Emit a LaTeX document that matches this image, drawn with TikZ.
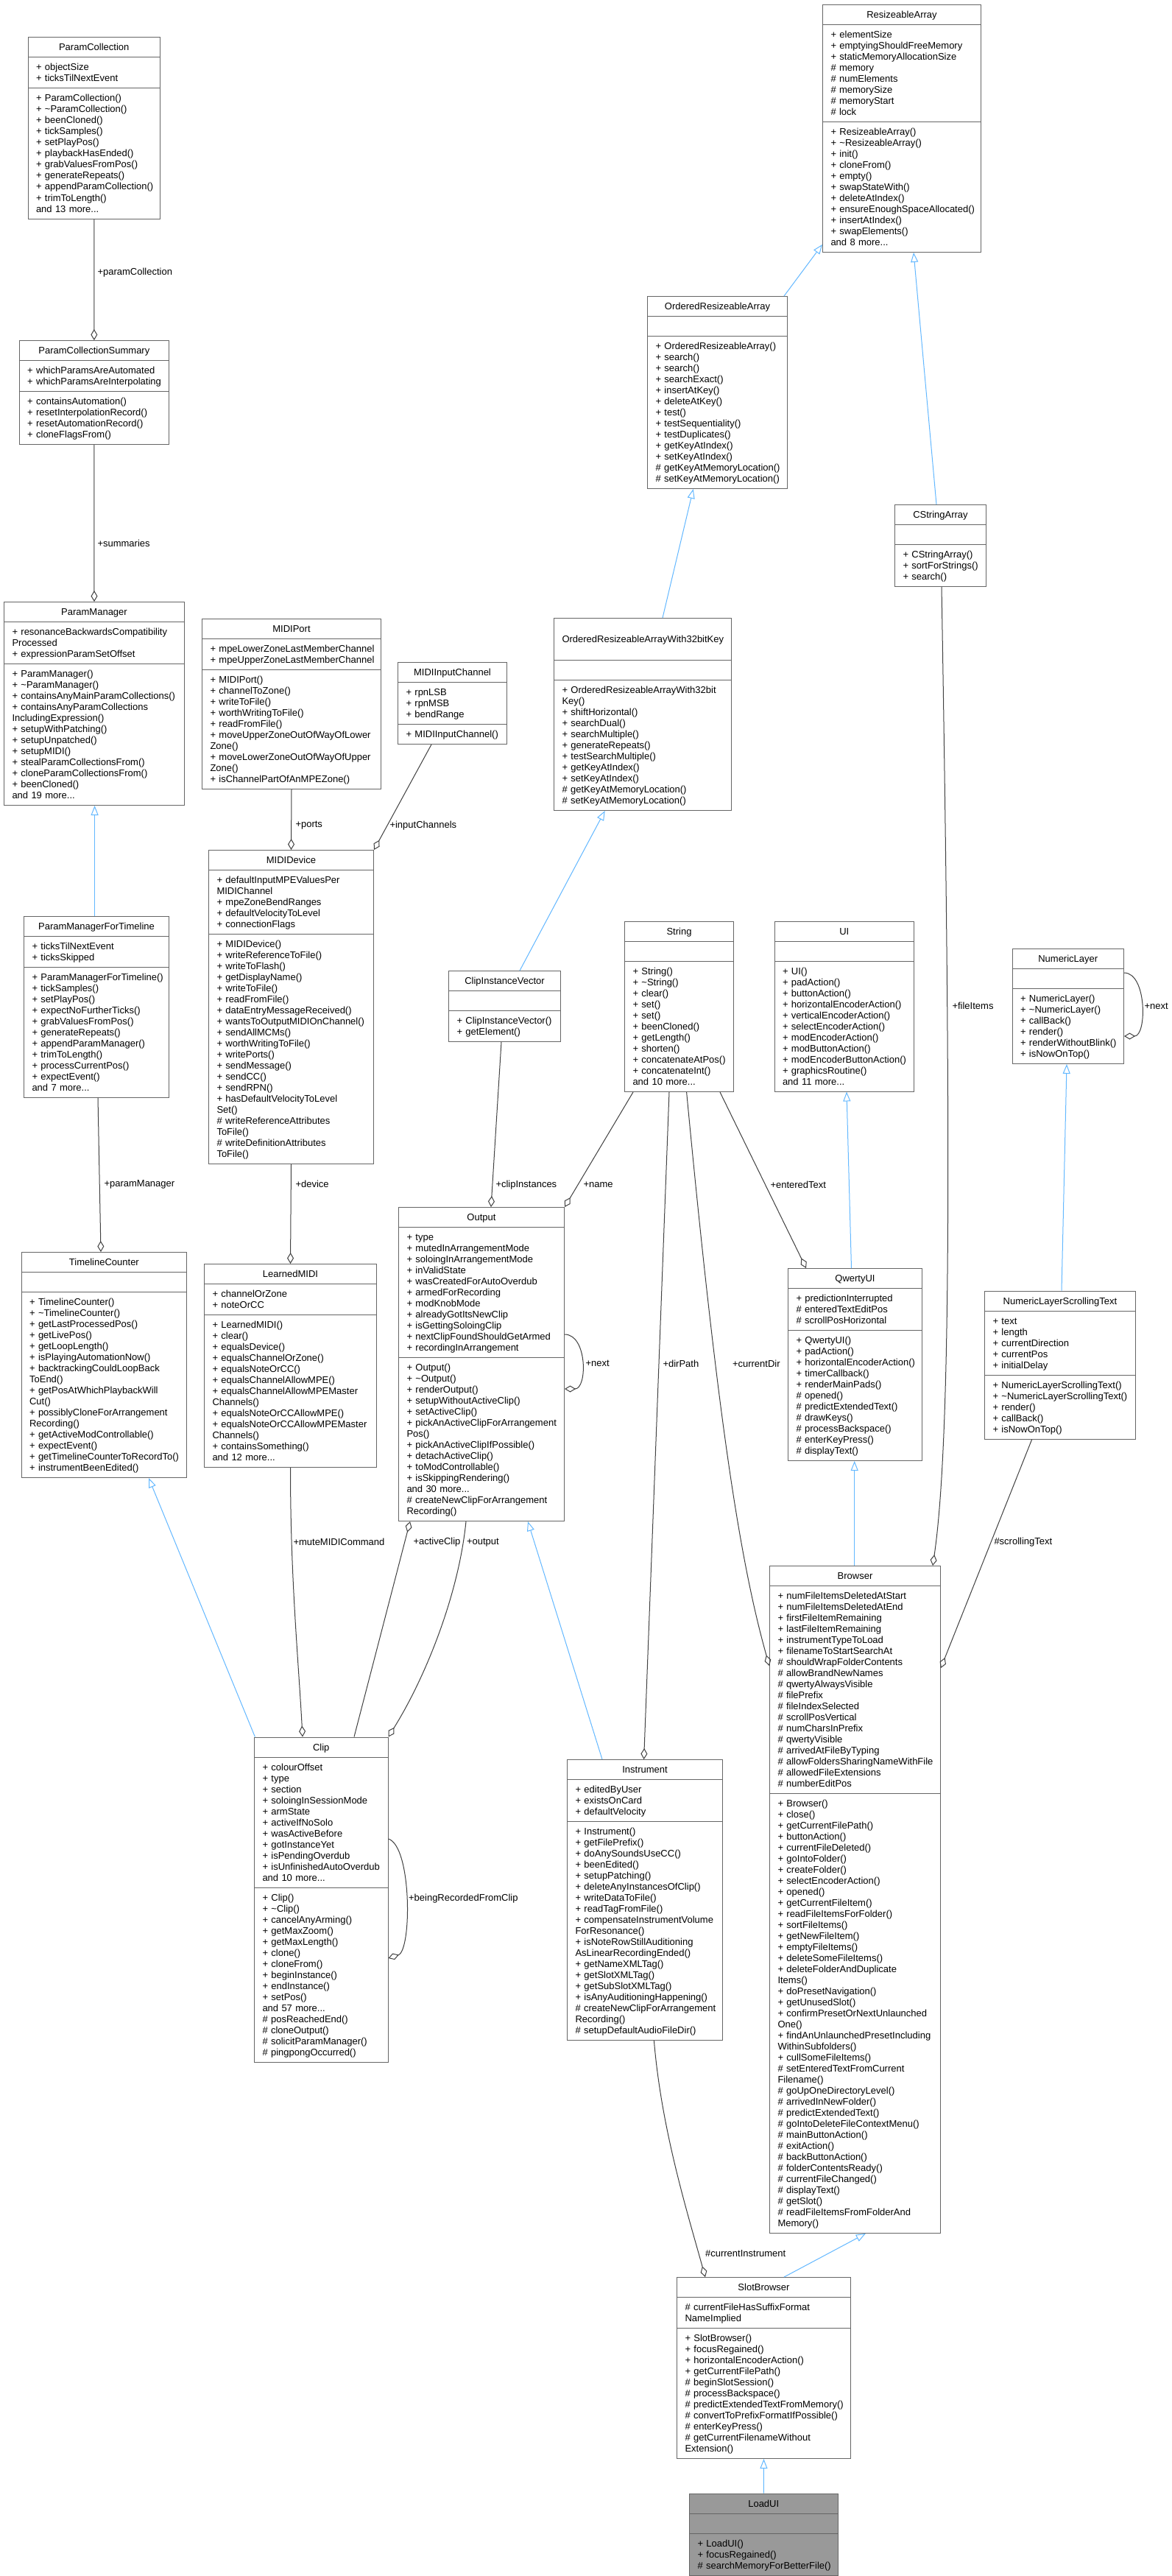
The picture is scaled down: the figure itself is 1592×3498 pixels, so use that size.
\documentclass[tikz,border=0pt]{standalone}
\usepackage{fontspec}
\setmainfont{Liberation Sans}
\usepackage{tikz}
\usetikzlibrary{calc}
\usetikzlibrary{arrows.meta}
\usetikzlibrary{shapes}
\definecolor{boxgray}{HTML}{666666}
\definecolor{edgegray}{HTML}{404040}
\definecolor{inhblue}{HTML}{63B8FF}
\definecolor{focusfill}{HTML}{999999}
\newcommand{\boxfont}{\fontsize{13pt}{15pt}\selectfont\parindent=0pt\hyphenpenalty=10000\lefthyphenmin=64\relax}
\newcommand{\lstrut}{\rule[-3pt]{0pt}{15pt}}
\newcommand{\cls}[3]{\lstrut\hfill#1\hfill\lstrut\nodepart{two}\lstrut#2\lstrut\nodepart{three}\lstrut#3\lstrut}
\tikzset{
	every path/.style={line width=1pt},
	cls/.style={
		draw=boxgray,
		fill=white,
		rectangle split,
		rectangle split parts=3,
		anchor=north west,
		inner xsep=11pt,
		inner ysep=5.5pt,
		text width=#1,
		align=left,
		font=\boxfont,
	},
	focus/.style={fill=focusfill},
	usage/.style={
		draw=edgegray,
		-{Diamond[open,length=15pt,width=9pt]}
	},
	inherit/.style={
		draw=inhblue,
		-{Triangle[open,length=13pt,width=10pt]}
	},
	lbl/.style={anchor=west, inner sep=0pt, font=\boxfont},
}

\begin{document}
\begin{tikzpicture}[x=1pt, y=-1pt]
		\fill[white] (0,0) rectangle (1592,3498);
		\useasboundingbox (0,0) rectangle (1592,3498);

		% left column: parameters
		\node[cls=157.5pt] (pcoll) at (37.5,50.5) {\cls{ParamCollection}
			{+~objectSize\\+~ticksTilNextEvent}
			{+~ParamCollection()\\+~\textasciitilde ParamCollection()\\+~beenCloned()\\+~tickSamples()\\+~setPlayPos()\\+~playbackHasEnded()\\+~grabValuesFromPos()\\+~generateRepeats()\\+~appendParamCollection()\\+~trimToLength()\\and 13 more...}};
		\node[cls=181.3pt] (pcsum) at (25.7,462) {\cls{ParamCollectionSummary}
			{+~whichParamsAreAutomated\\+~whichParamsAreInterpolating}
			{+~containsAutomation()\\+~resetInterpolationRecord()\\+~resetAutomationRecord()\\+~cloneFlagsFrom()}};
		\node[cls=223pt] (pman) at (5,817) {\cls{ParamManager}
			{+~resonanceBackwardsCompatibility\\Processed\\+~expressionParamSetOffset}
			{+~ParamManager()\\+~\textasciitilde ParamManager()\\+~containsAnyMainParamCollections()\\+~containsAnyParamCollections\\IncludingExpression()\\+~setupWithPatching()\\+~setupUnpatched()\\+~setupMIDI()\\+~stealParamCollectionsFrom()\\+~cloneParamCollectionsFrom()\\+~beenCloned()\\and 19 more...}};
		\node[cls=175pt] (pmtl) at (32,1243.5) {\cls{ParamManagerForTimeline}
			{+~ticksTilNextEvent\\+~ticksSkipped}
			{+~ParamManagerForTimeline()\\+~tickSamples()\\+~setPlayPos()\\+~expectNoFurtherTicks()\\+~grabValuesFromPos()\\+~generateRepeats()\\+~appendParamManager()\\+~trimToLength()\\+~processCurrentPos()\\+~expectEvent()\\and 7 more...}};
		\node[cls=202.6pt] (tlc) at (28.6,1700) {\cls{TimelineCounter}
			{}
			{+~TimelineCounter()\\+~\textasciitilde TimelineCounter()\\+~getLastProcessedPos()\\+~getLivePos()\\+~getLoopLength()\\+~isPlayingAutomationNow()\\+~backtrackingCouldLoopBack\\ToEnd()\\+~getPosAtWhichPlaybackWill\\Cut()\\+~possiblyCloneForArrangement\\Recording()\\+~getActiveModControllable()\\+~expectEvent()\\+~getTimelineCounterToRecordTo()\\+~instrumentBeenEdited()}};

		\draw[usage] (pcoll.south) -- (pcsum.north);
		\node[lbl] (lparamcoll) at (132,370) {+paramCollection};
		\draw[usage] (pcsum.south) -- (pman.north);
		\node[lbl] (lsummaries) at (132,738) {+summaries};
		\draw[inherit] ($(pmtl.north west)+(96.6,0)$) -- ($(pman.south west)+(123.6,0)$);
		\draw[usage] ($(pmtl.south west)+(101,0)$) -- ($(tlc.north west)+(108.4,0)$);
		\node[lbl] (lparamman) at (141,1608) {+paramManager};

		% MIDI
		\node[cls=221pt] (mport) at (274,840) {\cls{MIDIPort}
			{+~mpeLowerZoneLastMemberChannel\\+~mpeUpperZoneLastMemberChannel}
			{+~MIDIPort()\\+~channelToZone()\\+~writeToFile()\\+~worthWritingToFile()\\+~readFromFile()\\+~moveUpperZoneOutOfWayOfLower\\Zone()\\+~moveLowerZoneOutOfWayOfUpper\\Zone()\\+~isChannelPartOfAnMPEZone()}};
		\node[cls=126pt] (minch) at (540,899) {\cls{MIDIInputChannel}
			{+~rpnLSB\\+~rpnMSB\\+~bendRange}
			{+~MIDIInputChannel()}};
		\node[cls=202pt] (mdev) at (283,1154) {\cls{MIDIDevice}
			{+~defaultInputMPEValuesPer\\MIDIChannel\\+~mpeZoneBendRanges\\+~defaultVelocityToLevel\\+~connectionFlags}
			{+~MIDIDevice()\\+~writeReferenceToFile()\\+~writeToFlash()\\+~getDisplayName()\\+~writeToFile()\\+~readFromFile()\\+~dataEntryMessageReceived()\\+~wantsToOutputMIDIOnChannel()\\+~sendAllMCMs()\\+~worthWritingToFile()\\+~writePorts()\\+~sendMessage()\\+~sendCC()\\+~sendRPN()\\+~hasDefaultVelocityToLevel\\Set()\\\#~writeReferenceAttributes\\ToFile()\\\#~writeDefinitionAttributes\\ToFile()}};
		\node[cls=212pt] (lmidi) at (277,1716) {\cls{LearnedMIDI}
			{+~channelOrZone\\+~noteOrCC}
			{+~LearnedMIDI()\\+~clear()\\+~equalsDevice()\\+~equalsChannelOrZone()\\+~equalsNoteOrCC()\\+~equalsChannelAllowMPE()\\+~equalsChannelAllowMPEMaster\\Channels()\\+~equalsNoteOrCCAllowMPE()\\+~equalsNoteOrCCAllowMPEMaster\\Channels()\\+~containsSomething()\\and 12 more...}};

		\draw[usage] (mport.south) -- (mdev.north);
		\node[lbl] (lports) at (401,1121) {+ports};
		\draw[usage] ($(minch.south west)+(46,0)$) -- (mdev.north east);
		\node[lbl] (linputch) at (529,1121) {+inputChannels};
		\draw[usage] (mdev.south) -- (lmidi.north);
		\node[lbl] (ldevice) at (401,1608) {+device};

		% arrays
		\node[cls=193pt] (rarr) at (1117,6) {\cls{ResizeableArray}
			{+~elementSize\\+~emptyingShouldFreeMemory\\+~staticMemoryAllocationSize\\\#~memory\\\#~numElements\\\#~memorySize\\\#~memoryStart\\\#~lock}
			{+~ResizeableArray()\\+~\textasciitilde ResizeableArray()\\+~init()\\+~cloneFrom()\\+~empty()\\+~swapStateWith()\\+~deleteAtIndex()\\+~ensureEnoughSpaceAllocated()\\+~insertAtIndex()\\+~swapElements()\\and 8 more...}};
		\node[cls=168pt] (ora) at (879,402) {\cls{OrderedResizeableArray}
			{}
			{+~OrderedResizeableArray()\\+~search()\\+~search()\\+~searchExact()\\+~insertAtKey()\\+~deleteAtKey()\\+~test()\\+~testSequentiality()\\+~testDuplicates()\\+~getKeyAtIndex()\\+~setKeyAtIndex()\\\#~getKeyAtMemoryLocation()\\\#~setKeyAtMemoryLocation()}};
		\node[cls=219pt] (ora32) at (752,839) {\cls{OrderedResizeableArrayWith32bitKey}
			{}
			{+~OrderedResizeableArrayWith32bit\\Key()\\+~shiftHorizontal()\\+~searchDual()\\+~searchMultiple()\\+~generateRepeats()\\+~testSearchMultiple()\\+~getKeyAtIndex()\\+~setKeyAtIndex()\\\#~getKeyAtMemoryLocation()\\\#~setKeyAtMemoryLocation()}};
		\node[cls=102pt] (cstr) at (1215,685) {\cls{CStringArray}
			{}
			{+~CStringArray()\\+~sortForStrings()\\+~search()}};
		\node[cls=130pt] (civ) at (609,1318) {\cls{ClipInstanceVector}
			{}
			{+~ClipInstanceVector()\\+~getElement()}};

		\draw[inherit] ($(ora.north east)+(-5,0)$) -- ($(rarr.south west)+(0,-11)$);
		\draw[inherit] ($(cstr.north west)+(57,0)$) -- ($(rarr.south west)+(124,0)$);
		\draw[inherit] ($(ora32.north west)+(148,0)$) -- ($(ora.south west)+(62.7,0)$);
		\draw[inherit] ($(civ.north west)+(97,0)$) -- ($(ora32.south west)+(69.7,0)$);

		% ui
		\node[cls=126pt] (str) at (848,1251) {\cls{String}
			{}
			{+~String()\\+~\textasciitilde String()\\+~clear()\\+~set()\\+~set()\\+~beenCloned()\\+~getLength()\\+~shorten()\\+~concatenateAtPos()\\+~concatenateInt()\\and 10 more...}};
		\node[cls=167.5pt] (ui) at (1051.5,1250.5) {\cls{UI}
			{}
			{+~UI()\\+~padAction()\\+~buttonAction()\\+~horizontalEncoderAction()\\+~verticalEncoderAction()\\+~selectEncoderAction()\\+~modEncoderAction()\\+~modButtonAction()\\+~modEncoderButtonAction()\\+~graphicsRoutine()\\and 11 more...}};
		\node[cls=129.5pt] (numl) at (1374.5,1288) {\cls{NumericLayer}
			{}
			{+~NumericLayer()\\+~\textasciitilde NumericLayer()\\+~callBack()\\+~render()\\+~renderWithoutBlink()\\+~isNowOnTop()}};
		\node[cls=183pt] (nlst) at (1337,1752.5) {\cls{NumericLayerScrollingText}
			{+~text\\+~length\\+~currentDirection\\+~currentPos\\+~initialDelay}
			{+~NumericLayerScrollingText()\\+~\textasciitilde NumericLayerScrollingText()\\+~render()\\+~callBack()\\+~isNowOnTop()}};
		\node[cls=160pt] (qui) at (1070,1722) {\cls{QwertyUI}
			{+~predictionInterrupted\\\#~enteredTextEditPos\\\#~scrollPosHorizontal}
			{+~QwertyUI()\\+~padAction()\\+~horizontalEncoderAction()\\+~timerCallback()\\+~renderMainPads()\\\#~opened()\\\#~predictExtendedText()\\\#~drawKeys()\\\#~processBackspace()\\\#~enterKeyPress()\\\#~displayText()}};

		\draw[usage] ($(numl.north east)+(0,33)$) .. controls +(31,0) and +(31,0) .. ($(numl.north east)+(0,119)$);
		\node[lbl] (lnextnum) at (1554,1366) {+next};
		\draw[inherit] ($(nlst.north west)+(105,0)$) -- ($(numl.south west)+(74.5,0)$);
		\draw[inherit] ($(qui.north west)+(86.5,0)$) -- ($(ui.south west)+(98.5,0)$);
		\draw[usage] ($(str.south west)+(130,0)$) -- ($(qui.north west)+(25,0)$);
		\node[lbl] (lentered) at (1046,1609) {+enteredText};

		% output and clip
		\node[cls=203pt] (output) at (541,1639) {\cls{Output}
			{+~type\\+~mutedInArrangementMode\\+~soloingInArrangementMode\\+~inValidState\\+~wasCreatedForAutoOverdub\\+~armedForRecording\\+~modKnobMode\\+~alreadyGotItsNewClip\\+~isGettingSoloingClip\\+~nextClipFoundShouldGetArmed\\+~recordingInArrangement}
			{+~Output()\\+~\textasciitilde Output()\\+~renderOutput()\\+~setupWithoutActiveClip()\\+~setActiveClip()\\+~pickAnActiveClipForArrangement\\Pos()\\+~pickAnActiveClipIfPossible()\\+~detachActiveClip()\\+~toModControllable()\\+~isSkippingRendering()\\and 30 more...\\\#~createNewClipForArrangement\\Recording()}};
		\node[cls=159.5pt] (clip) at (345,2358.5) {\cls{Clip}
			{+~colourOffset\\+~type\\+~section\\+~soloingInSessionMode\\+~armState\\+~activeIfNoSolo\\+~wasActiveBefore\\+~gotInstanceYet\\+~isPendingOverdub\\+~isUnfinishedAutoOverdub\\and 10 more...}
			{+~Clip()\\+~\textasciitilde Clip()\\+~cancelAnyArming()\\+~getMaxZoom()\\+~getMaxLength()\\+~clone()\\+~cloneFrom()\\+~beginInstance()\\+~endInstance()\\+~setPos()\\and 57 more...\\\#~posReachedEnd()\\\#~cloneOutput()\\\#~solicitParamManager()\\\#~pingpongOccurred()}};
		\node[cls=189pt] (instr) at (770,2389) {\cls{Instrument}
			{+~editedByUser\\+~existsOnCard\\+~defaultVelocity}
			{+~Instrument()\\+~getFilePrefix()\\+~doAnySoundsUseCC()\\+~beenEdited()\\+~setupPatching()\\+~deleteAnyInstancesOfClip()\\+~writeDataToFile()\\+~readTagFromFile()\\+~compensateInstrumentVolume\\ForResonance()\\+~isNoteRowStillAuditioning\\AsLinearRecordingEnded()\\+~getNameXMLTag()\\+~getSlotXMLTag()\\+~getSubSlotXMLTag()\\+~isAnyAuditioningHappening()\\\#~createNewClipForArrangement\\Recording()\\\#~setupDefaultAudioFileDir()}};

		\draw[usage] ($(civ.south west)+(72,0)$) -- ($(output.north west)+(126,0)$);
		\node[lbl] (lclipinst) at (673,1609) {+clipInstances};
		\draw[usage] ($(str.south west)+(12,0)$) -- (output.north east);
		\node[lbl] (lname) at (792,1609) {+name};
		\draw[usage] ($(output.north east)+(0,173)$) .. controls +(31,0) and +(31,0) .. ($(output.north east)+(0,247)$);
		\node[lbl] (lnextout) at (795,1851.5) {+next};
		\draw[usage] ($(str.south west)+(61,0)$) -- ($(instr.north west)+(104.6,0)$);
		\node[lbl] (ldirpath) at (900,1851.5) {+dirPath};
		\draw[inherit] ($(instr.north west)+(48,0)$) -- ($(output.south west)+(176,0)$);
		\draw[inherit] ($(clip.north west)+(1.4,0)$) -- ($(tlc.south west)+(173.4,0)$);
		\draw[usage] (lmidi.south) .. controls +(0,150) and +(-6,-110) .. ($(clip.north west)+(66,0)$);
		\node[lbl] (lmute) at (398,2094) {+muteMIDICommand};
		\draw[usage] ($(clip.north west)+(136,0)$) -- ($(output.south west)+(16,0)$);
		\node[lbl] (lactive) at (561,2094.6) {+activeClip};
		\draw[usage] ($(output.south west)+(92,0)$) .. controls +(-10,100) and +(50,-80) .. (clip.north east);
		\node[lbl] (loutput) at (633.5,2094.6) {+output};
		\draw[usage] ($(clip.north east)+(0,138.5)$) .. controls +(32,10) and +(32,-10) .. ($(clip.north east)+(0,300.5)$);
		\node[lbl] (lbeingrec) at (554.6,2578) {+beingRecordedFromClip};

		% browsers
		\node[cls=210pt] (brow) at (1045,2126) {\cls{Browser}
			{+~numFileItemsDeletedAtStart\\+~numFileItemsDeletedAtEnd\\+~firstFileItemRemaining\\+~lastFileItemRemaining\\+~instrumentTypeToLoad\\+~filenameToStartSearchAt\\\#~shouldWrapFolderContents\\\#~allowBrandNewNames\\\#~qwertyAlwaysVisible\\\#~filePrefix\\\#~fileIndexSelected\\\#~scrollPosVertical\\\#~numCharsInPrefix\\\#~qwertyVisible\\\#~arrivedAtFileByTyping\\\#~allowFoldersSharingNameWithFile\\\#~allowedFileExtensions\\\#~numberEditPos}
			{+~Browser()\\+~close()\\+~getCurrentFilePath()\\+~buttonAction()\\+~currentFileDeleted()\\+~goIntoFolder()\\+~createFolder()\\+~selectEncoderAction()\\+~opened()\\+~getCurrentFileItem()\\+~readFileItemsForFolder()\\+~sortFileItems()\\+~getNewFileItem()\\+~emptyFileItems()\\+~deleteSomeFileItems()\\+~deleteFolderAndDuplicate\\Items()\\+~doPresetNavigation()\\+~getUnusedSlot()\\+~confirmPresetOrNextUnlaunched\\One()\\+~findAnUnlaunchedPresetIncluding\\WithinSubfolders()\\+~cullSomeFileItems()\\\#~setEnteredTextFromCurrent\\Filename()\\\#~goUpOneDirectoryLevel()\\\#~arrivedInNewFolder()\\\#~predictExtendedText()\\\#~goIntoDeleteFileContextMenu()\\\#~mainButtonAction()\\\#~exitAction()\\\#~backButtonAction()\\\#~folderContentsReady()\\\#~currentFileChanged()\\\#~displayText()\\\#~getSlot()\\\#~readFileItemsFromFolderAnd\\Memory()}};
		\node[cls=214pt] (sbrow) at (919,3092) {\cls{SlotBrowser}
			{\#~currentFileHasSuffixFormat\\NameImplied}
			{+~SlotBrowser()\\+~focusRegained()\\+~horizontalEncoderAction()\\+~getCurrentFilePath()\\\#~beginSlotSession()\\\#~processBackspace()\\\#~predictExtendedTextFromMemory()\\\#~convertToPrefixFormatIfPossible()\\\#~enterKeyPress()\\\#~getCurrentFilenameWithout\\Extension()}};
		\node[cls=179.5pt, focus] (loadui) at (936,3385.5) {\cls{LoadUI}
			{}
			{+~LoadUI()\\+~focusRegained()\\\#~searchMemoryForBetterFile()}};

		\draw[usage] ($(str.south west)+(84.6,0)$) .. controls +(42,442) and +(-40,-142) .. ($(brow.north west)+(0,136)$);
		\node[lbl] (lcurdir) at (994.5,1851.5) {+currentDir};
		\draw[usage] ($(cstr.south west)+(64,0)$) .. controls +(12,700) and +(26,-176) .. ($(brow.north east)+(-11,0)$);
		\node[lbl] (lfileitems) at (1293,1366) {+fileItems};
		\draw[usage] ($(nlst.south west)+(64.7,0)$) -- ($(brow.north east)+(0,139)$);
		\node[lbl] (lscroll) at (1350,2094.4) {\#scrollingText};
		\draw[inherit] ($(brow.north west)+(115.7,0)$) -- ($(qui.south west)+(90.7,0)$);
		\draw[inherit] ($(sbrow.north west)+(146,0)$) -- ($(brow.south west)+(130.8,0)$);
		\draw[usage] ($(instr.south west)+(118.4,0)$) .. controls +(10,120) and +(-25,-90) .. ($(sbrow.north west)+(39,0)$);
		\node[lbl] (lcurinstr) at (957.6,3060) {\#currentInstrument};
		\draw[inherit] (loadui.north) -- (sbrow.south);

	\end{tikzpicture}
\end{document}
